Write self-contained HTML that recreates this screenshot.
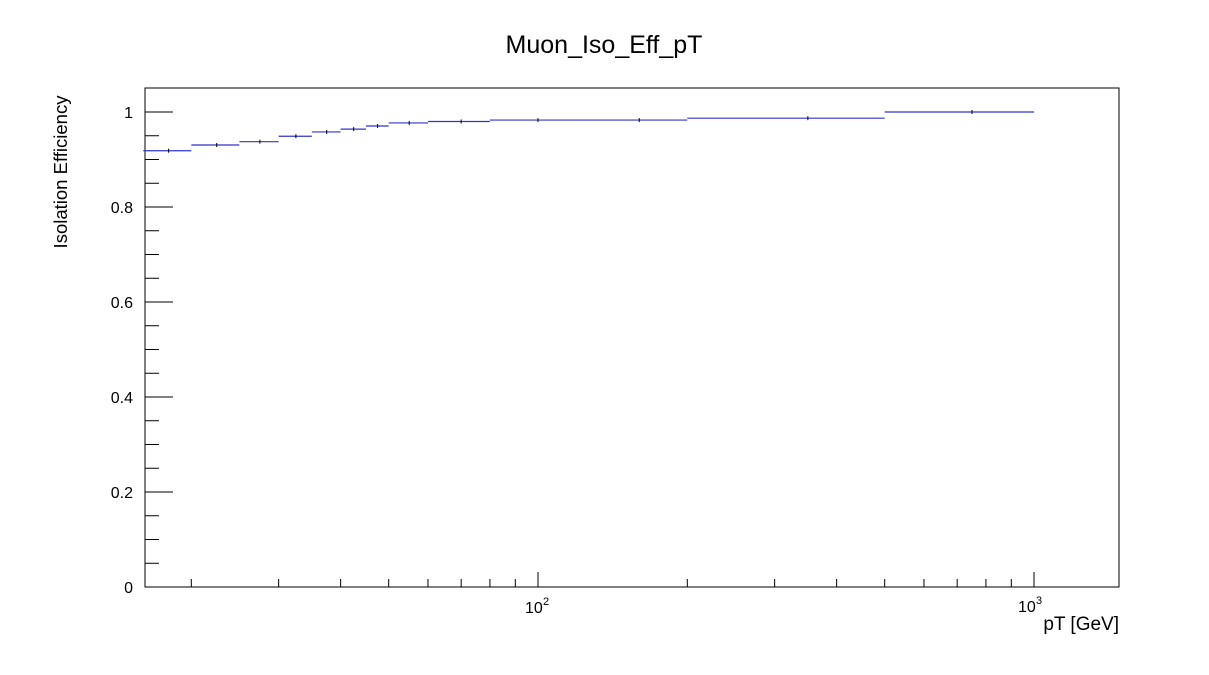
<!DOCTYPE html>
<html><head><meta charset="utf-8"><style>
body{margin:0;background:#fff;}
svg{display:block;font-family:"Liberation Sans",sans-serif;}
</style></head><body>
<svg id="c" width="1209" height="675">
<text x="604" y="53" font-size="25" text-anchor="middle">Muon_Iso_Eff_pT</text>
<text transform="translate(67,172) rotate(-90)" font-size="18.5" text-anchor="middle">Isolation Efficiency</text>
<text x="1119" y="630" font-size="19" text-anchor="end">pT [GeV]</text>
<rect x="145" y="88" width="974" height="499" fill="none" stroke="#000" stroke-width="1"/>
<g id="axes"></g>
<g id="marks"></g>
</svg>
<script>
const binEdges=[16,20,25,30,35,40,45,50,60,80,120,200,500,1000];
const effValues=[0.9185,0.9305,0.9375,0.949,0.958,0.964,0.9705,0.977,0.980,0.983,0.983,0.987,1.0];
const yTicks=[0,0.2,0.4,0.6,0.8,1];
const yTickLabels=["0","0.2","0.4","0.6","0.8","1"];
const xMinorTicks=[20,30,40,50,60,70,80,90,200,300,400,500,600,700,800,900];
const xMajorTicks=[100,1000];
const xMajorLabels=["2","3"];

const NS="http://www.w3.org/2000/svg";
const L=145,R=1119,T=88,B=587;
const dec=496;
const xs=v=>538+(Math.log10(v)-2)*dec;
const ys=v=>587-v*475;
function mk(tag,attrs,parent){const e=document.createElementNS(NS,tag);for(const k in attrs)e.setAttribute(k,attrs[k]);parent.appendChild(e);return e;}
const ax=document.getElementById('axes'),mg=document.getElementById('marks');
for(let i=0;i<=20;i++){const v=i*0.05;if(v>1.05)break;const y=ys(v);const major=i%4===0;
 const t=mk('line',{x1:L,x2:L+(major?28:14),y1:y,y2:y,stroke:'#000','stroke-width':1},ax);
 
 }
yTicks.forEach((v,i)=>{const t=mk('text',{x:133,y:ys(v)+6,'font-size':16,'text-anchor':'end'},ax);t.textContent=yTickLabels[i];
 
 });
xMinorTicks.forEach(v=>{const x=xs(v);const t=mk('line',{x1:x,x2:x,y1:B,y2:B-8,stroke:'#000','stroke-width':1},ax);
 
 });
xMajorTicks.forEach((v,i)=>{const x=xs(v);const t=mk('line',{x1:x,x2:x,y1:B,y2:B-15,stroke:'#000','stroke-width':1},ax);
 
 
 const dx=i===1?-16:-13;
 const tx=mk('text',{x:x+dx,y:i===1?612:613,'font-size':16},ax);tx.textContent='10';
 
 
 const sp=mk('text',{x:x+dx+18,y:i===1?604:605,'font-size':11},ax);sp.textContent=xMajorLabels[i];
 
 });
effValues.forEach((v,i)=>{const x1=xs(binEdges[i]),x2=xs(binEdges[i+1]),y=ys(v);
 const h=mk('line',{x1:x1,x2:x2,y1:y,y2:y,stroke:'#3333cc','stroke-width':1.2},mg);
 
 
 const xc=xs((binEdges[i]+binEdges[i+1])/2);
 const e=mk('line',{x1:xc,x2:xc,y1:y-2,y2:y+2,stroke:'#000','stroke-width':1},mg);
 
 });
</script>
</body></html>
